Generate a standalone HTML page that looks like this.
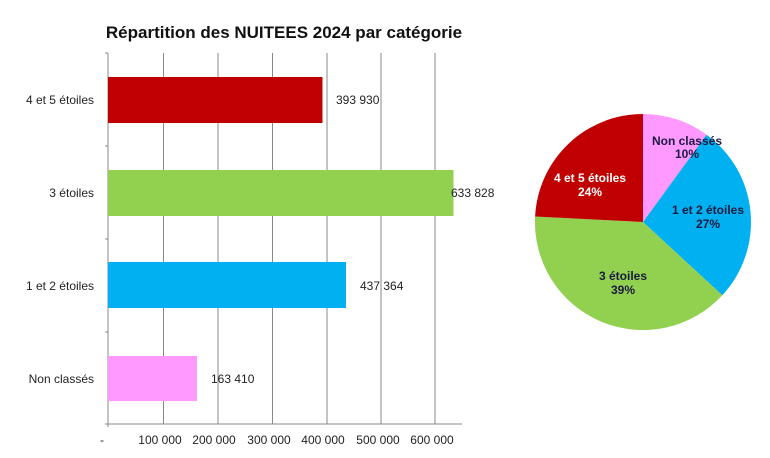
<!DOCTYPE html>
<html><head><meta charset="utf-8"><style>
html,body{margin:0;padding:0;background:#fff;}
svg{display:block;font-family:"Liberation Sans",Arial,sans-serif;}
</style></head><body>
<svg width="770" height="458" viewBox="0 0 770 458" xmlns="http://www.w3.org/2000/svg">
<rect width="770" height="458" fill="#fff"/>
<text x="284" y="38" font-size="17" font-weight="bold" text-anchor="middle" fill="#111">Répartition des NUITEES 2024 par catégorie</text>
<g stroke="#888" stroke-width="1">
<line x1="163.5" y1="53" x2="163.5" y2="424"/>
<line x1="218" y1="53" x2="218" y2="424"/>
<line x1="272.5" y1="53" x2="272.5" y2="424"/>
<line x1="327" y1="53" x2="327" y2="424"/>
<line x1="381" y1="53" x2="381" y2="424"/>
<line x1="435" y1="53" x2="435" y2="424"/>
<line x1="108" y1="53" x2="108" y2="427"/>
<line x1="105" y1="424" x2="462" y2="424"/>
<line x1="105" y1="53" x2="108" y2="53"/>
<line x1="105" y1="146" x2="108" y2="146"/>
<line x1="105" y1="239" x2="108" y2="239"/>
<line x1="105" y1="332" x2="108" y2="332"/>
</g>
<rect x="108" y="77" width="214.5" height="46" fill="#c00000"/>
<rect x="108" y="170" width="345.5" height="46" fill="#92d050"/>
<rect x="108" y="262" width="238" height="46" fill="#00b0f0"/>
<rect x="108" y="356" width="89" height="45" fill="#ff99ff"/>
<g font-size="12" fill="#222">
<text x="94" y="104" text-anchor="end">4 et 5 étoiles</text>
<text x="94" y="197" text-anchor="end">3 étoiles</text>
<text x="94" y="290" text-anchor="end">1 et 2 étoiles</text>
<text x="94" y="383" text-anchor="end">Non classés</text>
<text x="336" y="104">393 930</text>
<text x="451" y="197">633 828</text>
<text x="360" y="290">437 364</text>
<text x="211" y="383">163 410</text>
</g>
<g font-size="12" fill="#222" text-anchor="middle">
<text x="102" y="444">-</text>
<text x="160" y="444">100 000</text>
<text x="214" y="444">200 000</text>
<text x="269" y="444">300 000</text>
<text x="323" y="444">400 000</text>
<text x="378" y="444">500 000</text>
<text x="432" y="444">600 000</text>
</g>
<g>
<path d="M643,222 L643,114 A108,108 0 0 1 706.6,134.7 Z" fill="#ff99ff"/>
<path d="M643,222 L706.6,134.7 A108,108 0 0 1 722.3,295.3 Z" fill="#00b0f0"/>
<path d="M643,222 L722.3,295.3 A108,108 0 0 1 535.1,216.5 Z" fill="#92d050"/>
<path d="M643,222 L535.1,216.5 A108,108 0 0 1 643,114 Z" fill="#c00000"/>
</g>
<g font-size="12" font-weight="bold" text-anchor="middle">
<text x="687" y="145" fill="#1a1a40">Non classés</text>
<text x="687" y="158" fill="#1a1a40">10%</text>
<text x="708" y="214" fill="#1a1a40">1 et 2 étoiles</text>
<text x="708" y="228" fill="#1a1a40">27%</text>
<text x="590" y="182" fill="#fff">4 et 5 étoiles</text>
<text x="590" y="196" fill="#fff">24%</text>
<text x="623" y="280" fill="#1a1a40">3 étoiles</text>
<text x="623" y="294" fill="#1a1a40">39%</text>
</g>
</svg>
</body></html>
